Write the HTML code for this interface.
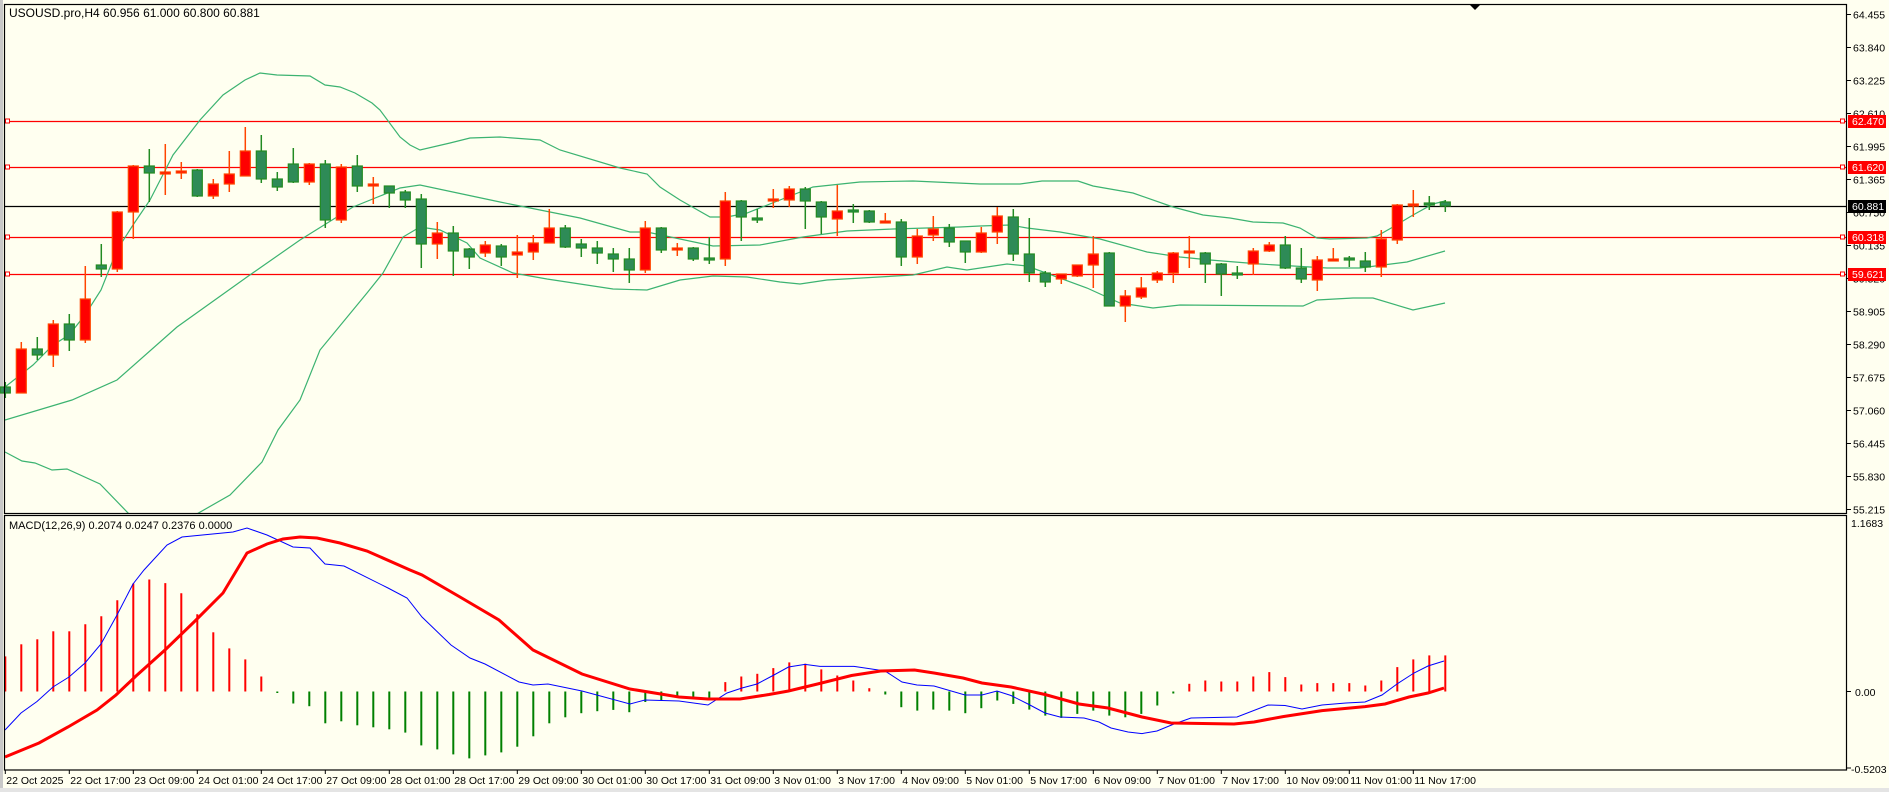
<!DOCTYPE html>
<html><head><meta charset="utf-8"><style>
html,body{margin:0;padding:0;background:#fffff0;}
svg{display:block;font-family:"Liberation Sans",sans-serif;}
</style></head><body>
<svg id="c" width="1889" height="792" xmlns="http://www.w3.org/2000/svg">
<rect x="0" y="0" width="1889" height="792" fill="#fffff0"/>
<rect x="0" y="0" width="3" height="792" fill="#c8c8c8"/>
<rect x="0" y="788" width="1889" height="4" fill="#e4e4e4"/>
<g id="g"></g>
<text x="9" y="17" font-size="12" fill="#000">USOUSD.pro,H4  60.956 61.000 60.800 60.881</text>
<text x="9" y="529" font-size="11" fill="#000">MACD(12,26,9) 0.2074 0.0247 0.2376 0.0000</text>
</svg>
<script>
var g=document.getElementById('g');var h='';
function X(k){return 5.3+16*k;}
function L(x1,y1,x2,y2,c,w){h+='<line x1="'+x1+'" y1="'+y1+'" x2="'+x2+'" y2="'+y2+'" stroke="'+c+'" stroke-width="'+(w||1)+'"/>';}
function P(pts,c,w,clip){h+='<polyline fill="none" stroke="'+c+'" stroke-width="'+w+'" '+(clip?'clip-path="url(#'+clip+')" ':'')+'points="'+pts.map(function(p){return p[0]+','+p[1]}).join(' ')+'"/>';}
h+='<defs><clipPath id="mc"><rect x="5" y="5" width="1842" height="508"/></clipPath><clipPath id="dc"><rect x="5" y="516" width="1842" height="254"/></clipPath></defs>';
// horizontal levels
[[121,'#ff0000'],[167,'#ff0000'],[237,'#ff0000'],[274,'#ff0000'],[206,'#000']].forEach(function(l){L(5,l[0]+.5,1847,l[0]+.5,l[1],1.3);
 if(l[1]!='#000'){h+='<rect x="5.5" y="'+(l[0]-2)+'" width="4" height="4" fill="#fff" stroke="#f00"/><rect x="1840.5" y="'+(l[0]-2)+'" width="4" height="4" fill="#fff" stroke="#f00"/>';}});
// bands
var up=[[5,387],[33,365],[53,345],[69,335],[85,315],[101,290],[117,250],[133,225],[150,200],[173,155],[200,120],[223,95],[245,80],[260,73],[277,75],[310,76],[325,85],[340,87],[355,93],[372,103],[380,110],[400,137],[410,145],[420,150],[450,143],[470,138],[500,137],[540,140],[560,150],[620,168],[647,174],[660,187],[680,200],[710,217],[727,217],[747,213],[780,200],[813,187],[860,182],[913,181],[980,184],[1020,184],[1042,181],[1078,181],[1093,186],[1133,193],[1173,207],[1203,215],[1230,218],[1253,222],[1283,223],[1300,228],[1317,238],[1330,239],[1367,238],[1377,236],[1393,227],[1413,215],[1433,204],[1445,201]];
var mid=[[5,420],[72,400],[117,380],[177,327],[247,277],[300,240],[353,207],[400,188],[420,185],[467,195],[500,202],[520,206],[580,218],[630,232],[647,232],[713,246],[760,245],[803,237],[847,231],[893,229],[960,227],[980,226],[1010,225],[1027,228],[1060,232],[1100,239],[1147,252],[1180,257],[1210,260],[1260,264],[1293,266],[1327,268],[1360,268],[1383,265],[1407,262],[1445,251]];
var lo1=[[5,452],[22,461],[35,463],[52,470],[67,469],[100,484],[130,515]];
var lo2=[[195,515],[230,495],[262,462],[278,430],[300,400],[320,350],[367,293],[383,273],[403,237],[420,227],[440,230],[467,243],[480,258],[513,273],[547,279],[613,289],[647,290],[680,280],[713,276],[747,277],[780,282],[800,284],[827,280],[913,275],[947,267],[967,270],[1007,264],[1027,266],[1087,288],[1120,303],[1153,308],[1180,305],[1303,306],[1317,300],[1353,298],[1373,298],[1413,310],[1445,303]];
[up,mid,lo1,lo2].forEach(function(a){P(a,'#3cb371',1.2,'mc');});
// candles [high,top,bot,low,color]
var C=[[382,387,393,398,'g'],[342,349,393,393,'r'],[337,349,355,360,'g'],[320,324,355,367,'r'],[314,324,340,351,'g'],[266,299,340,343,'r'],[244,265,269,277,'g'],[211,212,269,272,'r'],[165,166,212,239,'r'],[149,166,173,202,'g'],[144,172,174,195,'r'],[162,171,173,179,'r'],[169,170,196,197,'g'],[179,184,196,199,'r'],[151,174,184,192,'r'],[127,151,176,176,'r'],[135,151,179,183,'g'],[172,179,187,191,'g'],[148,164,182,183,'g'],[163,164,182,185,'r'],[160,164,220,228,'g'],[164,167,220,223,'r'],[155,166,186,192,'g'],[177,184,186,204,'r'],[186,186,193,208,'g'],[190,192,200,208,'g'],[194,199,244,268,'g'],[222,233,244,259,'r'],[226,233,251,276,'g'],[248,249,257,269,'g'],[241,245,253,257,'r'],[244,246,257,266,'g'],[235,252,255,278,'r'],[235,243,252,260,'r'],[209,228,243,243,'r'],[225,228,247,248,'g'],[239,244,248,257,'g'],[241,248,253,264,'g'],[248,254,259,272,'g'],[248,259,270,283,'g'],[221,228,270,273,'r'],[227,228,250,253,'g'],[243,248,250,256,'r'],[247,248,259,261,'g'],[237,258,260,264,'g'],[192,201,259,266,'r'],[200,201,217,241,'g'],[209,218,220,223,'g'],[189,199,201,208,'r'],[186,189,200,207,'r'],[187,189,201,229,'g'],[201,202,217,234,'g'],[185,211,219,236,'r'],[204,210,212,223,'g'],[210,211,222,223,'g'],[213,221,223,223,'r'],[219,222,257,266,'g'],[229,236,257,264,'r'],[216,229,235,241,'r'],[224,228,242,247,'g'],[241,241,252,263,'g'],[227,233,252,253,'r'],[207,216,232,244,'r'],[209,217,254,261,'g'],[218,254,273,282,'g'],[271,273,282,287,'g'],[274,274,279,284,'r'],[265,265,276,277,'r'],[236,254,265,288,'r'],[252,253,306,306,'g'],[290,296,306,322,'r'],[277,288,297,299,'r'],[271,273,280,283,'r'],[252,253,273,283,'r'],[236,251,253,268,'r'],[252,253,264,283,'g'],[263,264,274,296,'g'],[266,273,275,279,'g'],[248,251,264,275,'r'],[242,245,251,252,'r'],[236,245,268,269,'g'],[248,268,279,283,'g'],[256,260,280,291,'r'],[248,259,261,261,'r'],[256,258,260,267,'g'],[252,261,267,272,'g'],[230,239,267,277,'r'],[204,205,240,244,'r'],[190,204,206,217,'r'],[196,203,205,210,'g'],[200,202,206,212,'g']];
C.forEach(function(c,k){var x=X(k),col=c[4]=='r'?'#ff0000':'#2e8b57',bd=c[4]=='r'?'#ff4500':'#228b22';
 L(x,c[0],x,c[3],bd,1.5);var ht=c[2]-c[1];if(ht<2){h+='<rect x="'+(x-5.5)+'" y="'+(c[1]-1)+'" width="11" height="2.5" fill="'+bd+'"/>';}
 else h+='<rect x="'+(x-5)+'" y="'+c[1]+'" width="10" height="'+ht+'" fill="'+col+'" stroke="'+bd+'" stroke-width="1.2"/>';});
// histogram
var H=[656.4,644.3,639.3,631.3,631.3,624.3,616.3,600.2,583.5,579.5,583.1,593.2,614.2,632.3,648.4,659.4,676.5,693,703.5,706.2,723.3,721.3,725.3,727.3,729.3,732.6,745.4,749.4,754.4,758.4,755.4,752.4,746.7,736.3,723.3,717.3,713.2,711.2,709.9,712.2,702,700.5,697.9,697.2,698.9,682.1,676.5,673.8,668.1,662.4,663.7,669.4,675.5,680.5,688.2,694.5,707.2,710.6,709.6,710.6,713.2,708.2,700.5,703.9,709.6,715.6,717.9,713.9,710.6,715.6,717.3,713.9,705.5,693.5,683.8,680.5,681.5,681.5,676.5,672.1,677.1,684.5,683.1,683.1,683.1,685.5,680.5,667.1,659.4,655.4,655.4];
var Z=691.5;H.forEach(function(v,k){var x=X(k);L(x,Z,x,v,v<Z?'#ff0000':'#008000',2);});
var B=[[5,730],[21,713],[37,701.5],[53,687],[69,677],[85,663],[101,644],[117,615],[133,584],[144,570],[167,545],[182,537],[233,532],[247,528],[267,535],[293,547],[310,548],[325,564],[344,566],[388,588],[407,598],[422,617],[451,645],[470,658],[485,664],[519,682],[533,685],[548,684],[582,691],[630,704],[645,700],[679,701],[708,705],[727,693],[742,688],[757,684],[773,675.5],[788.5,667],[805,664.4],[820,666.4],[854,666.4],[885,671],[902,682],[917,685],[934,686],[965,695],[982,695],[997,691],[1011,695.5],[1028,704],[1045,713],[1060,717],[1084,718],[1099,722],[1111,728],[1128,732],[1142,733.6],[1157,731],[1174,724],[1191,718],[1237,717],[1268,705],[1285,705.5],[1302,709],[1322,705],[1346,703],[1365,702],[1382,695],[1397,684],[1414,673],[1428,666],[1444,661]];
var R=[[5,757],[39,743],[68,727],[97,710],[116,695],[136,676],[165,650],[194,622],[223,593],[247,553],[267,544],[283,539],[300,537],[317,538],[340,543],[367,551],[410,570],[422,575],[460,597],[499,620],[533,650],[582,674],[630,689],[679,697],[708,699],[740,699],[769,694.5],[788.5,691],[817.5,684],[851.5,675.5],[880.6,671],[914.5,670],[934,673],[963,678],[982,683],[1011,687],[1045,694.5],[1079,704],[1108,708],[1142,717],[1171,723],[1234,724],[1254,722],[1283,716.6],[1322,710.6],[1365,706.6],[1385,704],[1409,697],[1428,693],[1444,688]];
P(B,'#0000ff',1,'dc');P(R,'#ff0000',3,'dc');
// frames
h+='<rect x="4.5" y="4.5" width="1842" height="509" fill="none" stroke="#000" stroke-width="1.2"/>';
h+='<rect x="4.5" y="515.5" width="1842" height="254.5" fill="none" stroke="#000" stroke-width="1.2"/>';
h+='<polygon points="1470,5 1480,5 1475,10" fill="#000"/>';
// price axis
var pl=['64.455','63.840','63.225','62.610','61.995','61.365','60.750','60.135','59.520','58.905','58.290','57.675','57.060','56.445','55.830','55.215'];
pl.forEach(function(t,i){var y=14.5+i*33;L(1847,y,1851,y,'#000',1);h+='<text x="1853" y="'+(y+4)+'" font-size="10.5" fill="#000">'+t+'</text>';});
[[121,'62.470','#ff0000'],[167,'61.620','#ff0000'],[237,'60.318','#ff0000'],[274,'59.621','#ff0000'],[206,'60.881','#000']].forEach(function(t){h+='<rect x="1848" y="'+(t[0]-6)+'" width="38" height="13" fill="'+t[2]+'"/><text x="1852" y="'+(t[0]+4)+'" font-size="10.5" fill="#fff">'+t[1]+'</text>';});
h+='<text x="1851" y="527" font-size="10.5" fill="#000">1.1683</text>';L(1847,691.5,1851,691.5,'#000',1);
h+='<text x="1855" y="696" font-size="10.5" fill="#000">0.00</text>';L(1847,768,1851,768,'#000',1);
h+='<text x="1851" y="773" font-size="10.5" fill="#000">-0.5203</text>';
var tl=['22 Oct 2025','22 Oct 17:00','23 Oct 09:00','24 Oct 01:00','24 Oct 17:00','27 Oct 09:00','28 Oct 01:00','28 Oct 17:00','29 Oct 09:00','30 Oct 01:00','30 Oct 17:00','31 Oct 09:00','3 Nov 01:00','3 Nov 17:00','4 Nov 09:00','5 Nov 01:00','5 Nov 17:00','6 Nov 09:00','7 Nov 01:00','7 Nov 17:00','10 Nov 09:00','11 Nov 01:00','11 Nov 17:00'];
tl.forEach(function(t,i){var x=X(i*4);L(x,770,x,774,'#000',1);h+='<text x="'+(x+1)+'" y="784" font-size="10.5" fill="#000">'+t+'</text>';});
g.innerHTML=h;
</script>
</body></html>
